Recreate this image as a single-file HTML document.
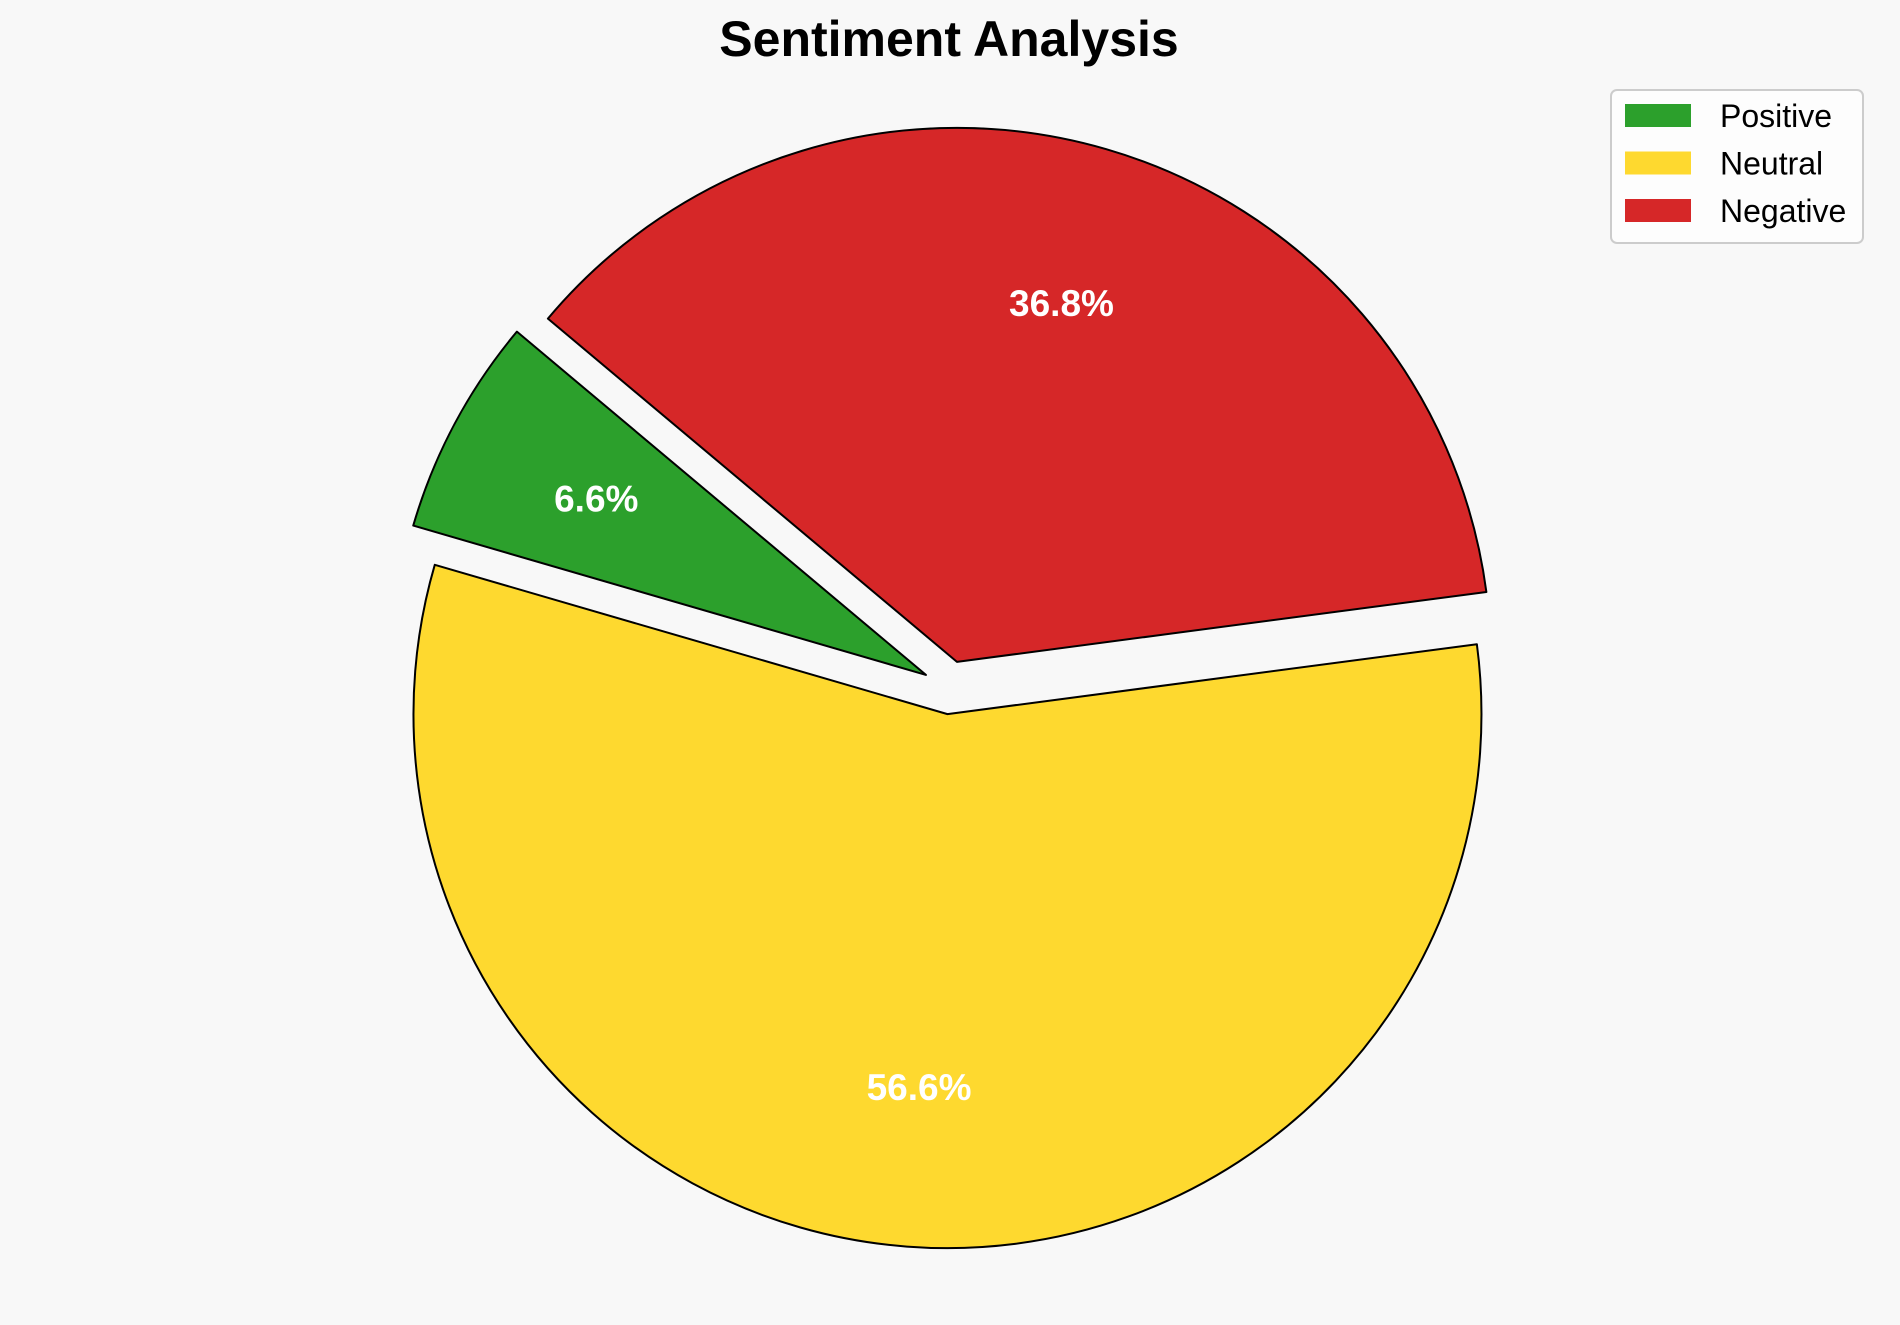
<!DOCTYPE html>
<html><head><meta charset="utf-8"><style>
html,body{margin:0;padding:0;background:#f8f8f8;}
svg{display:block;font-family:"Liberation Sans",Arial,sans-serif;}
</style></head><body>
<svg id="chart" width="1900" height="1325" viewBox="0 0 1900 1325">
<rect width="1900" height="1325" fill="#f8f8f8"/>
<text x="949" y="56" text-anchor="middle" font-size="50" font-weight="bold" fill="#000">Sentiment Analysis</text>
<g id="pie"></g>
<g>
<rect x="1611" y="90" width="252" height="153" rx="6" fill="#fdfdfd" stroke="#cccccc" stroke-width="2"/>
<g id="legend-items"></g>
</g>
</svg>
<script>
const categories = ["Positive","Neutral","Negative"];
const values = [6.6, 56.6, 36.8];
const colors = ["#2ca02c","#fed92f","#d62728"];
const explode = [0.05, 0.05, 0.05];
const cx = 949.5, cy = 687.5, R = 534, startAngle = 140, pctDist = 0.7;
const NS = "http://www.w3.org/2000/svg";
const pie = document.getElementById('pie');
const total = values.reduce((a,b)=>a+b,0);
function pt(x,y,a,r){const t=a*Math.PI/180;return [x+r*Math.cos(t), y-r*Math.sin(t)];}
let a0 = startAngle;
values.forEach((v,i)=>{
  const sweep = v/total*360, a1 = a0+sweep, mid = (a0+a1)/2;
  const [ox,oy] = pt(cx,cy,mid,explode[i]*R);
  const [x0,y0] = pt(ox,oy,a0,R), [x1,y1] = pt(ox,oy,a1,R);
  const p = document.createElementNS(NS,'path');
  p.setAttribute('d',`M${ox},${oy} L${x0},${y0} A${R},${R} 0 ${sweep>180?1:0} 0 ${x1},${y1} Z`);
  p.setAttribute('fill',colors[i]); p.setAttribute('stroke','#000'); p.setAttribute('stroke-width','2');
  p.setAttribute('stroke-linejoin','round');
  
  
  pie.appendChild(p);
  const [tx,ty] = pt(ox,oy,mid,pctDist*R);
  const t = document.createElementNS(NS,'text');
  t.setAttribute('x',tx); t.setAttribute('y',ty+13);
  t.setAttribute('text-anchor','middle'); t.setAttribute('font-size','37'); t.setAttribute('font-weight','bold'); t.setAttribute('fill','#fff');
  t.textContent = v.toFixed(1)+'%';
  
  
  pie.appendChild(t);
  a0 = a1;
});
const li = document.getElementById('legend-items');
categories.forEach((c,i)=>{
  const y = 104 + i*47.5;
  const r = document.createElementNS(NS,'rect');
  r.setAttribute('x',1625); r.setAttribute('y',y); r.setAttribute('width',66); r.setAttribute('height',23); r.setAttribute('fill',colors[i]);
  
  
  li.appendChild(r);
  const t = document.createElementNS(NS,'text');
  t.setAttribute('x',1720); t.setAttribute('y',y+23); t.setAttribute('font-size','32'); t.setAttribute('fill','#000');
  t.textContent = c;
  
  
  li.appendChild(t);
});
</script>
</body></html>
